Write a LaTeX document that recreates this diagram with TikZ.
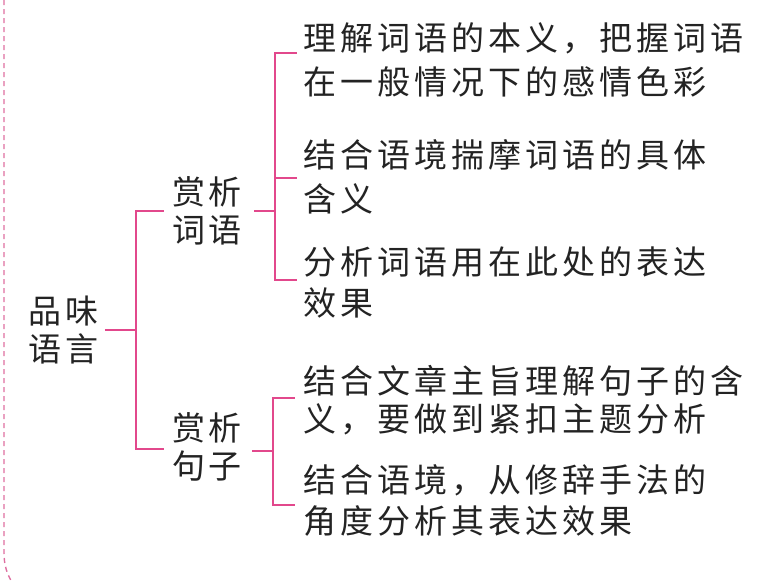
\documentclass[tikz,border=0pt]{standalone}
\usepackage{fontspec}
\newfontfamily\cjk{Noto Sans CJK SC}
\definecolor{brpink}{RGB}{226,72,140}
\definecolor{dashpink}{RGB}{222,110,160}
\definecolor{ink}{RGB}{35,35,35}
\newlength\lsgap
\setlength\lsgap{4pt}
\makeatletter
\def\lsp#1{\lsp@i#1\@nil}
\def\lsp@i#1#2\@nil{#1\ifx\relax#2\relax\else\hspace{\lsgap}\lsp@i#2\@nil\fi}
\makeatother
\tikzset{
  br/.style={draw=brpink, line width=1.6pt},
  lab/.style={inner sep=0pt, align=left, text=ink, font=\cjk\fontsize{33}{38}\selectfont},
  item/.style={inner sep=0pt, align=left, anchor=west, text=ink, font=\cjk\fontsize{33}{#1}\selectfont},
}
\begin{document}
\begin{tikzpicture}[x=1pt,y=-1pt]
\useasboundingbox (0,0) rectangle (784,581);
% dashed border
\draw[dashpink, line width=1.4pt, dash pattern=on 5pt off 4pt]
  (4,0) -- (4,552) .. controls (4,566) and (7,574) .. (13,584);
% labels
\node[lab, anchor=west] (root) at (28,330) {\lsp{品味}\\\lsp{语言}};
\node[lab] (w) at (207,211) {\lsp{赏析}\\\lsp{词语}};
\node[lab] (s) at (207,447) {\lsp{赏析}\\\lsp{句子}};
% items
\node[item=44] (i1) at (303,60) {\lsp{理解词语的本义，把握词语}\\\lsp{在一般情况下的感情色彩}};
\node[item=44] (i2) at (303,177) {\lsp{结合语境揣摩词语的具体}\\\lsp{含义}};
\node[item=41] (i3) at (303,282) {\lsp{分析词语用在此处的表达}\\\lsp{效果}};
\node[item=38] (i4) at (303,400) {\lsp{结合文章主旨理解句子的含}\\\lsp{义，要做到紧扣主题分析}};
\node[item=41] (i5) at (303,500) {\lsp{结合语境，从修辞手法的}\\\lsp{角度分析其表达效果}};
% junctions
\coordinate (j0) at (136,330);
\coordinate (j1) at (275,211);
\coordinate (j2) at (273,451);
% connectors
\draw[br] ([xshift=6.5pt]root.east) -- (j0);
\draw[br] (j0) |- ([xshift=-7.5pt,yshift=0pt]w.west);
\draw[br] (j0) |- ([xshift=-7.5pt,yshift=-2pt]s.west);
\draw[br] ([xshift=12pt]w.east) -- (j1);
\draw[br] (j1) |- ([xshift=-6pt,yshift=7pt]i1.west);
\draw[br] (j1) |- ([xshift=-6pt,yshift=-1pt]i2.west);
\draw[br] (j1) |- ([xshift=-6pt,yshift=2pt]i3.west);
\draw[br] ([xshift=10pt,yshift=-4pt]s.east) -- (j2);
\draw[br] (j2) |- ([xshift=-8pt,yshift=2pt]i4.west);
\draw[br] (j2) |- ([xshift=-8pt,yshift=-5pt]i5.west);
\end{tikzpicture}
\end{document}
